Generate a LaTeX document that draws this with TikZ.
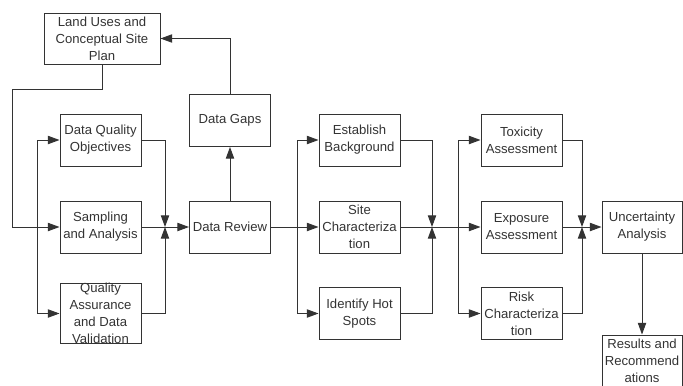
\documentclass[tikz,border=0pt]{standalone}
\usepackage{fontspec}
\setmainfont{Liberation Sans}
\usetikzlibrary{arrows.meta}
\begin{document}
\begin{tikzpicture}[x=0.03cm,y=-0.03cm,
    box/.style={draw=black!80,line width=0.8pt,minimum width=2.43cm,minimum height=1.56cm,
        inner sep=0pt,align=center,text=black!80,font=\fontsize{11.2}{14.5}\selectfont},
    arr/.style={draw=black!80,line width=0.8pt,-{Triangle[length=0.35cm,width=0.25cm]}},
    ln/.style={draw=black!80,line width=0.8pt}]
                \useasboundingbox (0,0) rectangle (683,385);
                \node[box,minimum width=3.48cm,minimum height=1.53cm] (land) at (102,38.5) {Land Uses and\\Conceptual Site\\Plan};
                \node[box] (dqo) at (100.5,140) {Data Quality\\Objectives};
                \node[box] (samp) at (100.5,227) {Sampling\\and Analysis};
                \node[box] (qa) at (100.5,313.5) {Quality\\Assurance\\and Data\\Validation};
                \node[box] (gaps) at (230,120.5) {Data Gaps};
                \node[box] (review) at (230,227) {Data Review};
                \node[box] (bg) at (359.5,140) {Establish\\Background};
                \node[box] (site) at (359.5,227) {Site\\Characteriza\\tion};
                \node[box] (hot) at (359.5,313.5) {Identify Hot\\Spots};
                \node[box] (tox) at (521.5,140) {Toxicity\\Assessment};
                \node[box] (expo) at (521.5,227) {Exposure\\Assessment};
                \node[box] (risk) at (521.5,313.5) {Risk\\Characteriza\\tion};
                \node[box,minimum width=2.4cm] (unc) at (642,227) {Uncertainty\\Analysis};
                \node[box,minimum width=2.4cm] (res) at (642,361) {Results and\\Recommend\\ations};
                \coordinate (lt) at (12,89);
                \coordinate (b1) at (37,227);
                \coordinate (j1) at (165,227);
                \coordinate (b2) at (297,227);
                \coordinate (j2) at (432,227);
                \coordinate (b3) at (458,227);
                \coordinate (j3) at (582,227);
                \draw[arr] (gaps.north) |- (land.east);
                \draw[ln] (land.south) |- (lt);
                \draw[arr] (lt) |- (samp.west);
                \draw[arr] (b1) |- (dqo.west);
                \draw[arr] (b1) |- (qa.west);
                \draw[arr] (dqo.east) -| (j1);
                \draw[arr] (qa.east) -| (j1);
                \draw[arr] (samp.east) -- (review.west);
                \draw[arr] (review.north) -- (gaps.south);
                \draw[arr] (review.east) -- (site.west);
                \draw[arr] (b2) |- (bg.west);
                \draw[arr] (b2) |- (hot.west);
                \draw[arr] (bg.east) -| (j2);
                \draw[arr] (hot.east) -| (j2);
                \draw[arr] (site.east) -- (expo.west);
                \draw[arr] (b3) |- (tox.west);
                \draw[arr] (b3) |- (risk.west);
                \draw[arr] (tox.east) -| (j3);
                \draw[arr] (risk.east) -| (j3);
                \draw[arr] (expo.east) -- (unc.west);
                \draw[arr] (unc.south) -- (res.north);
\end{tikzpicture}
\end{document}
